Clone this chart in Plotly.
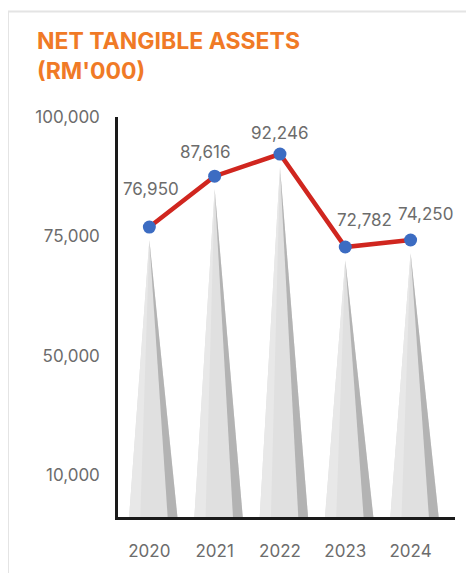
import plotly.graph_objects as go

YEARS = ["2020", "2021", "2022", "2023", "2024"]
NET_ASSETS = [76950, 87616, 92246, 72782, 74250]

# tick labels of the printed axis (the "10,000" label sits one step below 50,000)
TICK_VALUES = [100000, 75000, 50000, 25000]
TICK_LABELS = ["100,000", "75,000", "50,000", "10,000"]

Y_MIN, Y_MAX = 16250, 100000
TIP_DROP = 2700          # cone tip sits a little under the dot
LEFT_W, RIGHT_W = 0.31, 0.43

ORANGE = "#f07a26"
GREY_TXT = "#6c6c6c"
FONT = "Inter"

# page body has an 8px margin, so the figure is drawn 8px smaller
W, H = 466, 565
ML, MR, MT, MB = 110, 19, 109, 54
PW, PH = W - ML - MR, H - MT - MB


def px(x):
    # page pixel -> paper x
    return (x - 8 - ML) / PW


def py(y):
    # page pixel -> paper y
    return (H + 8 - MB - y) / PH


fig = go.Figure()

# decorative grey cones under each point
for i, v in enumerate(NET_ASSETS):
    tip = v - TIP_DROP
    parts = [
        ([i - LEFT_W, i, i + RIGHT_W], "#e0e0e0"),
        ([i - LEFT_W, i, i - 0.14], "#e8e8e8"),
        ([i + 0.28, i, i + RIGHT_W], "#b3b3b3"),
    ]
    for xs, col in parts:
        fig.add_trace(go.Scatter(
            x=[xs[0], xs[1], xs[2], xs[0]],
            y=[Y_MIN, tip, Y_MIN, Y_MIN],
            mode="lines", fill="toself", fillcolor=col,
            line=dict(width=0), hoverinfo="skip", showlegend=False,
        ))

fig.add_trace(go.Scatter(
    x=list(range(len(YEARS))), y=NET_ASSETS,
    mode="lines+markers",
    line=dict(color="#d0261f", width=4.5),
    marker=dict(color="#3c6cc2", size=13),
    cliponaxis=False, showlegend=False,
))

# value labels, nudged like the printed chart
shifts = [(2, 38), (-10, 24), (0, 21), (19, 27), (15, 26)]
for i, v in enumerate(NET_ASSETS):
    dx, dy = shifts[i]
    fig.add_annotation(x=i, y=v, text=f"{v:,}", showarrow=False,
                       xshift=dx, yshift=dy,
                       font=dict(size=17, color=GREY_TXT, family=FONT))

fig.add_annotation(xref="paper", yref="paper", x=px(35), y=py(25),
                   xanchor="left", yanchor="top", align="left",
                   text="<b>NET TANGIBLE ASSETS<br>(RM'000)</b>", showarrow=False,
                   font=dict(size=23, color=ORANGE, family=FONT))

# light frame of the panel
fig.add_shape(type="line", xref="paper", yref="paper",
              x0=px(8), x1=px(480), y0=py(11), y1=py(11),
              line=dict(color="#e4e4e4", width=2))
fig.add_shape(type="line", xref="paper", yref="paper",
              x0=px(8), x1=px(8), y0=py(11), y1=py(580),
              line=dict(color="#e4e4e4", width=2))

fig.update_layout(
    width=W, height=H,
    margin=dict(l=ML, r=MR, t=MT, b=MB),
    paper_bgcolor="white", plot_bgcolor="white",
    font=dict(family=FONT, color=GREY_TXT),
    xaxis=dict(range=[-0.48, 4.68], tickvals=list(range(len(YEARS))),
               ticktext=YEARS, showgrid=False, zeroline=False,
               showline=True, linecolor="#1a1a1a", linewidth=2.5,
               ticks="", ticklabelstandoff=17, tickfont=dict(size=17)),
    yaxis=dict(range=[Y_MIN, Y_MAX], tickvals=TICK_VALUES, ticktext=TICK_LABELS,
               showgrid=False, zeroline=False,
               showline=True, linecolor="#1a1a1a", linewidth=2.5,
               ticks="", ticklabelstandoff=12, tickfont=dict(size=17)),
)

fig.write_html("out.html")
